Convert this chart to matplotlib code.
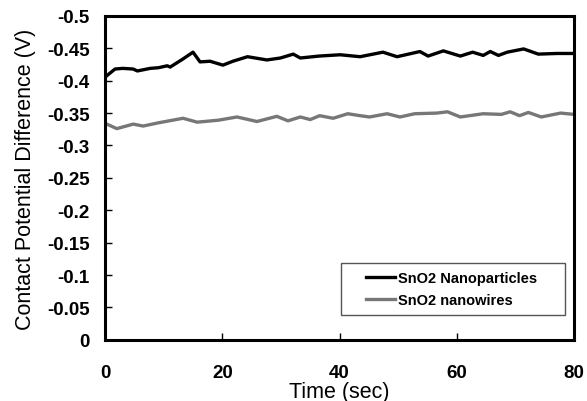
import matplotlib.pyplot as plt
from matplotlib.patches import Rectangle

plt.rcParams['font.family'] = ['Liberation Sans', 'DejaVu Sans']

# SnO2 nanoparticles (black)
t_np = [0, 0.2, 1.7, 3.0, 4.8, 5.5, 7.7, 9.1, 10.6, 11.1, 13.2, 15.0, 16.2, 17.9,
        20.1, 21.8, 24.3, 27.6, 29.9, 32.1, 33.3, 36.5, 40.1, 43.5, 47.4, 49.8,
        53.7, 55.1, 57.7, 60.6, 62.7, 64.5, 65.7, 67.1, 68.6, 71.4, 73.9, 77.1, 80]
v_np = [-0.404, -0.407, -0.418, -0.419, -0.418, -0.415, -0.419, -0.420, -0.423, -0.421,
        -0.433, -0.444, -0.429, -0.430, -0.424, -0.430, -0.437, -0.432, -0.435, -0.441,
        -0.435, -0.438, -0.440, -0.437, -0.444, -0.437, -0.445, -0.438, -0.446, -0.438,
        -0.444, -0.439, -0.445, -0.439, -0.444, -0.449, -0.441, -0.442, -0.442]

# SnO2 nanowires (gray)
t_nw = [0, 0.3, 2.0, 4.8, 6.5, 9.1, 13.3, 15.7, 19.3, 22.5, 25.9, 29.3, 31.2, 33.3,
        35.0, 36.6, 38.9, 41.4, 43.5, 45.1, 48.1, 50.3, 52.8, 56.6, 58.4, 60.6,
        64.5, 67.6, 69.1, 70.7, 72.2, 74.4, 77.7, 80]
v_nw = [-0.331, -0.333, -0.326, -0.333, -0.330, -0.335, -0.342, -0.336, -0.339, -0.344,
        -0.337, -0.345, -0.338, -0.344, -0.340, -0.346, -0.342, -0.349, -0.346, -0.344,
        -0.349, -0.344, -0.349, -0.350, -0.352, -0.344, -0.349, -0.348, -0.352, -0.346,
        -0.351, -0.344, -0.350, -0.348]

x_ticks = [0, 20, 40, 60, 80]
y_ticks = [0, -0.05, -0.1, -0.15, -0.2, -0.25, -0.3, -0.35, -0.4, -0.45, -0.5]
y_labels = ['0', '-0.05', '-0.1', '-0.15', '-0.2', '-0.25', '-0.3', '-0.35', '-0.4', '-0.45', '-0.5']

fig = plt.figure(figsize=(5.87, 4.02), dpi=100)
ax = fig.add_axes([0.179, 0.152, 0.799, 0.806])

ax.plot(t_np, v_np, color='black', lw=2.4, label='SnO2 Nanoparticles')
ax.plot(t_nw, v_nw, color='#777777', lw=2.4, label='SnO2 nanowires')

ax.set_xlim(0, 80)
ax.set_ylim(0, -0.5)
ax.set_xticks(x_ticks)
ax.set_yticks(y_ticks)
ax.set_yticklabels(y_labels)
ax.tick_params(direction='in', length=5, width=1, labelsize=13.5, top=False, right=False)
for lbl in ax.get_xticklabels() + ax.get_yticklabels():
    lbl.set_fontweight('bold')
ax.tick_params(axis='x', pad=17)
ax.tick_params(axis='y', pad=11)
for s in ax.spines.values():
    s.set_linewidth(2.2)

ax.set_xlabel('Time (sec)', fontsize=15.5, labelpad=0)
ax.set_ylabel('Contact Potential Difference (V)', fontsize=15.5, labelpad=8)

# legend frame is wider than its content, so draw it separately
ax.add_patch(Rectangle((0.503, 0.077), 0.478, 0.16, transform=ax.transAxes,
                       fill=False, edgecolor='#555555', lw=1, zorder=5))
leg = ax.legend(loc='center', bbox_to_anchor=(0.738, 0.157), frameon=False,
                prop={'weight': 'bold', 'size': 10.5}, handlelength=2.0,
                borderpad=0, borderaxespad=0, labelspacing=0.6, handletextpad=0.2)

plt.savefig('out.png', dpi=100)
